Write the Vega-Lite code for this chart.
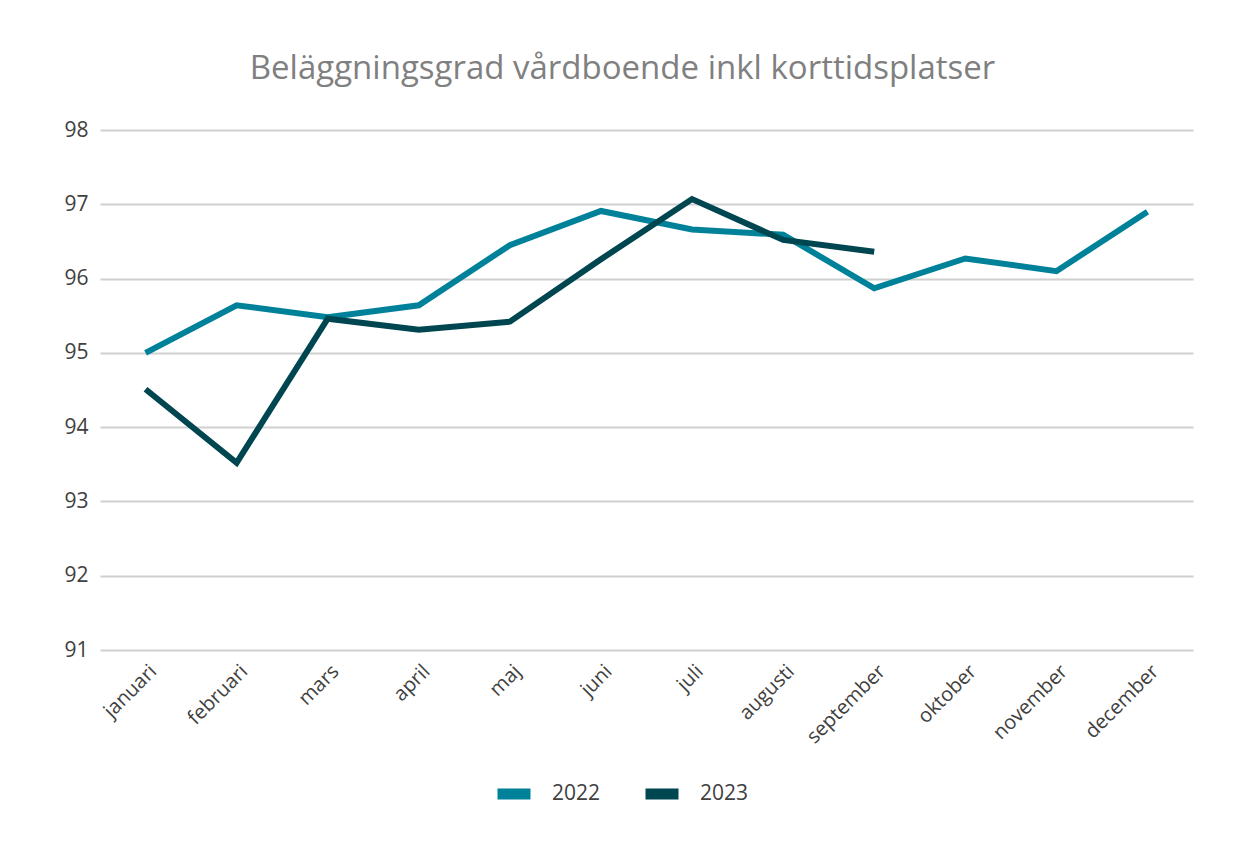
{
  "$schema": "https://vega.github.io/schema/vega-lite/v6.json",
  "width": 1093,
  "height": 520,
  "autosize": {"type": "none"},
  "padding": {"left": 100, "top": 130, "right": 41, "bottom": 199},
  "background": "white",
  "title": {
    "text": "Beläggningsgrad vårdboende inkl korttidsplatser",
    "font": "Open Sans",
    "fontSize": 33,
    "fontWeight": "normal",
    "color": "#808080",
    "anchor": "middle",
    "dx": -24,
    "offset": 33
  },
  "data": {
    "values": [
      {"month": "januari", "year": "2022", "value": 95.0},
      {"month": "februari", "year": "2022", "value": 95.64},
      {"month": "mars", "year": "2022", "value": 95.48},
      {"month": "april", "year": "2022", "value": 95.64},
      {"month": "maj", "year": "2022", "value": 96.45},
      {"month": "juni", "year": "2022", "value": 96.91},
      {"month": "juli", "year": "2022", "value": 96.66},
      {"month": "augusti", "year": "2022", "value": 96.59},
      {"month": "september", "year": "2022", "value": 95.87},
      {"month": "oktober", "year": "2022", "value": 96.27},
      {"month": "november", "year": "2022", "value": 96.1},
      {"month": "december", "year": "2022", "value": 96.9},
      {"month": "januari", "year": "2023", "value": 94.51},
      {"month": "februari", "year": "2023", "value": 93.52},
      {"month": "mars", "year": "2023", "value": 95.46},
      {"month": "april", "year": "2023", "value": 95.31},
      {"month": "maj", "year": "2023", "value": 95.42},
      {"month": "juni", "year": "2023", "value": 96.26},
      {"month": "juli", "year": "2023", "value": 97.07},
      {"month": "augusti", "year": "2023", "value": 96.52},
      {"month": "september", "year": "2023", "value": 96.36}
    ]
  },
  "mark": {"type": "line", "strokeWidth": 6, "strokeJoin": "miter", "strokeCap": "butt"},
  "encoding": {
    "x": {
      "field": "month",
      "type": "nominal",
      "sort": ["januari", "februari", "mars", "april", "maj", "juni", "juli", "augusti", "september", "oktober", "november", "december"],
      "scale": {"type": "band", "paddingInner": 0, "paddingOuter": 0},
      "axis": {
        "title": null,
        "labelAngle": -45,
        "labelAlign": "right",
        "labelBaseline": "middle",
        "labelPadding": 18,
        "labelOffset": 8,
        "labelFont": "Open Sans",
        "labelFontSize": 20,
        "labelColor": "#404040",
        "ticks": false,
        "domain": false,
        "grid": false
      }
    },
    "y": {
      "field": "value",
      "type": "quantitative",
      "scale": {"domain": [91, 98], "nice": false, "zero": false},
      "axis": {
        "title": null,
        "values": [91, 92, 93, 94, 95, 96, 97, 98],
        "labelFont": "Open Sans",
        "labelFontSize": 21,
        "labelColor": "#404040",
        "labelPadding": 12,
        "ticks": false,
        "domain": false,
        "grid": true,
        "gridColor": "#d0d0d0",
        "gridWidth": 2
      }
    },
    "color": {
      "field": "year",
      "type": "nominal",
      "scale": {"domain": ["2022", "2023"], "range": ["#00819a", "#004650"]},
      "legend": {
        "title": null,
        "orient": "none",
        "direction": "horizontal",
        "legendX": 392,
        "legendY": 642,
        "symbolType": "stroke",
        "symbolSize": 1089,
        "symbolStrokeWidth": 11,
        "symbolOpacity": 1,
        "labelFont": "Open Sans",
        "labelFontSize": 21,
        "labelColor": "#404040",
        "labelOffset": 16,
        "columnPadding": 22
      }
    }
  },
  "config": {
    "view": {"stroke": null}
  }
}
